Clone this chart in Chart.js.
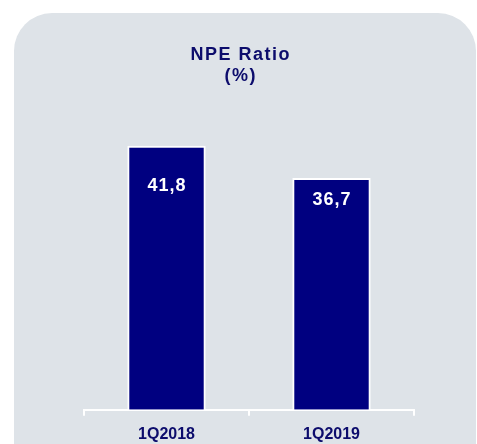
<!DOCTYPE html>
<html>
<head>
<meta charset="utf-8">
<script src="https://cdn.jsdelivr.net/npm/chart.js@4.4.1/dist/chart.umd.min.js"></script>
<style>
  body { margin: 0; background: #ffffff; }
  #wrap { position: relative; width: 477px; height: 444px; overflow: hidden; }
  #panel {
    position: absolute; left: 14px; top: 13px; width: 462px; height: 480px;
    background: #dee3e8; border-radius: 38px;
  }
  /* canvas a little taller than the window so the axis sits low like the original */
  #npeChart { position: absolute; left: 0; top: 0; }
</style>
</head>
<body>
<div id="wrap">
  <div id="panel"></div>
  <canvas id="npeChart" width="477" height="453"></canvas>
</div>
<script>
// chart data
const quarters = ['1Q2018', '1Q2019'];
const npeRatio = [41.8, 36.7];
const titleLines = ['NPE Ratio', '(%)'];

const navy = '#000080';
const textNavy = '#0c0c6c';

// labels inside the bars, white bold, comma decimal
const barLabels = {
  id: 'barLabels',
  afterDatasetsDraw(chart, args, opts) {
    const ctx = chart.ctx;
    const meta = chart.getDatasetMeta(0);
    ctx.save();
    ctx.fillStyle = '#ffffff';
    ctx.font = 'bold 18px "Liberation Sans", Arial, sans-serif';
    ctx.letterSpacing = '1px';
    ctx.textAlign = 'center';
    ctx.textBaseline = 'middle';
    meta.data.forEach((bar, i) => {
      const txt = npeRatio[i].toFixed(1).replace('.', ',');
      ctx.fillText(txt, bar.x + 0.5, bar.y + opts.offsets[i]);
    });
    ctx.restore();
  }
};

// two-line title, a bit left of the plot centre like the original
const panelTitle = {
  id: 'panelTitle',
  afterDraw(chart, args, opts) {
    const ctx = chart.ctx;
    ctx.save();
    ctx.fillStyle = textNavy;
    ctx.font = 'bold 18px "Liberation Sans", Arial, sans-serif';
    ctx.letterSpacing = '1.5px';
    ctx.textAlign = 'center';
    ctx.textBaseline = 'middle';
    titleLines.forEach((line, i) => {
      ctx.fillText(line, opts.x + 0.75, opts.y + i * opts.lineHeight);
    });
    ctx.restore();
  }
};

new Chart(document.getElementById('npeChart').getContext('2d'), {
  type: 'bar',
  data: {
    labels: quarters,
    datasets: [{
      data: npeRatio,
      backgroundColor: navy,
      borderColor: '#ffffff',
      borderWidth: 2,
      categoryPercentage: 1,
      barPercentage: 0.475
    }]
  },
  options: {
    responsive: false,
    animation: false,
    layout: { padding: { left: 84, right: 63, top: 94, bottom: 0 } },
    plugins: {
      legend: { display: false },
      tooltip: { enabled: false },
      barLabels: { offsets: [40, 22] },
      panelTitle: { x: 240, y: 55, lineHeight: 21 }
    },
    scales: {
      x: {
        offset: true,
        border: { display: true, color: '#ffffff', width: 2 },
        grid: {
          offset: true,
          drawOnChartArea: false,
          drawTicks: true,
          tickLength: 6,
          color: '#ffffff',
          lineWidth: 2
        },
        ticks: {
          padding: 9,
          color: textNavy,
          font: { family: '"Liberation Sans", Arial, sans-serif', size: 16, weight: 'bold' }
        }
      },
      y: {
        display: false,
        min: 0,
        max: 50
      }
    }
  },
  plugins: [barLabels, panelTitle]
});
</script>
</body>
</html>
